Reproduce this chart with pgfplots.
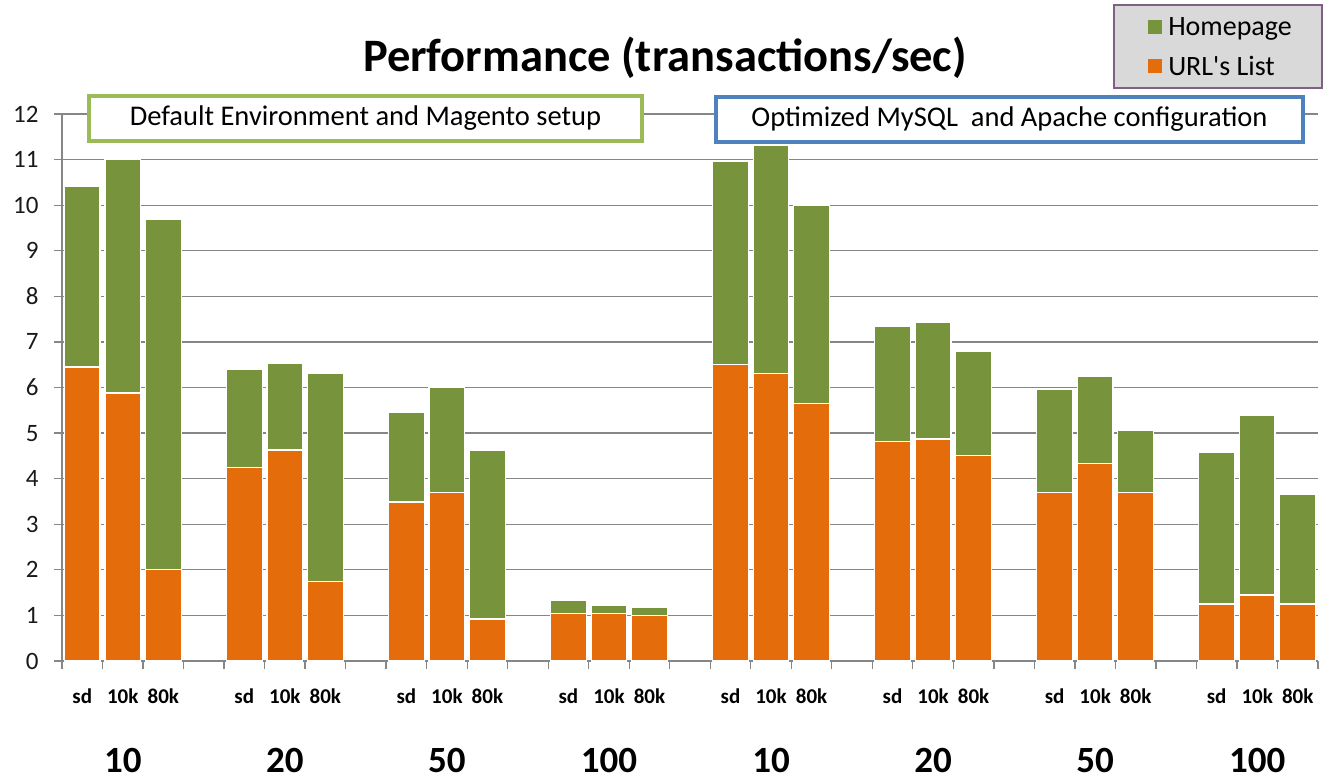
\documentclass[border=0pt]{standalone}
\usepackage{fontspec}
\setmainfont{Carlito}
\usepackage{pgfplots}
\usepackage{pgfplotstable}
\pgfplotsset{compat=1.18}
\definecolor{cOrange}{HTML}{E46C0A}
\definecolor{cGreen}{HTML}{77933C}
\definecolor{cGrid}{HTML}{868686}
\definecolor{cBoxG}{HTML}{9BBB59}
\definecolor{cBoxB}{HTML}{4F81BD}
\definecolor{cLegBg}{HTML}{D9D9D9}
\definecolor{cLegBd}{HTML}{7F6084}
\pgfplotstableread{
x orange green
0 6.45 3.97
1 5.88 5.12
2 2.00 7.69
4 4.25 2.15
5 4.63 1.90
6 1.75 4.57
8 3.49 1.97
9 3.70 2.30
10 0.92 3.71
12 1.05 0.27
13 1.05 0.18
14 1.00 0.18
16 6.51 4.46
17 6.30 5.01
18 5.65 4.35
20 4.82 2.53
21 4.87 2.56
22 4.50 2.30
24 3.70 2.26
25 4.34 1.91
26 3.70 1.36
28 1.25 3.33
29 1.45 3.94
30 1.25 2.41
}\datatable
\begin{document}
\begin{tikzpicture}[x=1pt,y=1pt]
\useasboundingbox (0,0) rectangle (1331,780);
\draw[cLegBd, line width=2pt, fill=cLegBg] (1114,692) rectangle (1322,775);
\begin{axis}[
  at={(62pt,119pt)}, anchor=south west,
  width=1256pt, height=547pt, scale only axis,
  ybar stacked, bar width=0.88,
  xmin=-0.5, xmax=30.5, ymin=0, ymax=12,
  clip=false,
  axis x line*=bottom, axis y line*=left,
  axis line style={cGrid, line width=1.5pt, -},
  ytick={0,...,12}, ymajorgrids,
  grid style={cGrid, line width=1.3pt},
  xtick={-0.5,0.5,...,30.5}, xticklabels={},
  tick align=outside, major tick length=8pt,
  tick style={cGrid, line width=1.3pt},
  /pgf/number format/assume math mode=true,
  yticklabel style={font=\fontsize{25}{28}\selectfont, text=black!90, xshift=-12pt},
  extra x ticks={0,1,2,4,5,6,8,9,10,12,13,14,16,17,18,20,21,22,24,25,26,28,29,30},
  extra x tick labels={sd,10k,80k,sd,10k,80k,sd,10k,80k,sd,10k,80k,sd,10k,80k,sd,10k,80k,sd,10k,80k,sd,10k,80k},
  extra x tick style={major tick length=0pt, tick label style={font=\fontsize{21}{23}\bfseries, yshift=-24pt}},
  legend style={at={(0.9228,1.1225)}, anchor=center, fill=none, draw=none,
    font=\fontsize{28}{32}\selectfont, row sep=15pt,
    /tikz/every odd column/.append style={column sep=4pt}},
  legend cell align=left, reverse legend,
  legend image code/.code={\fill[#1, draw=none] (0pt,-7pt) rectangle (14pt,7pt);},
]
\addplot[fill=cOrange, draw=white, line width=1.2pt] table[x=x, y=orange]{\datatable};
\addplot[fill=cGreen, draw=white, line width=1.2pt] table[x=x, y=green]{\datatable};
\legend{URL\textquotesingle s List, Homepage}
\foreach \p/\t in {1/10,5/20,9/50,13/100,17/10,21/20,25/50,29/100}{
  \edef\tmp{\noexpand\node[inner sep=0pt, font=\noexpand\fontsize{37}{44}\noexpand\bfseries] at (axis cs:\p,0) [yshift=-99pt] {\t};}
  \tmp
}
\end{axis}
\node[font=\fontsize{46.5}{54}\bfseries] at (665,722) {Performance (transactions/sec)};
\draw[cBoxG, line width=3.5pt, fill=white] (89,639) rectangle (642,684);
\node[font=\fontsize{28.5}{32}\selectfont] at (365.5,661.5) {Default Environment and Magento setup};
\draw[cBoxB, line width=3.5pt, fill=white] (716,638) rectangle (1303,683);
\node[font=\fontsize{28.5}{32}\selectfont] at (1009.5,660.5) {Optimized MySQL\ \ and Apache configuration};
\end{tikzpicture}
\end{document}
